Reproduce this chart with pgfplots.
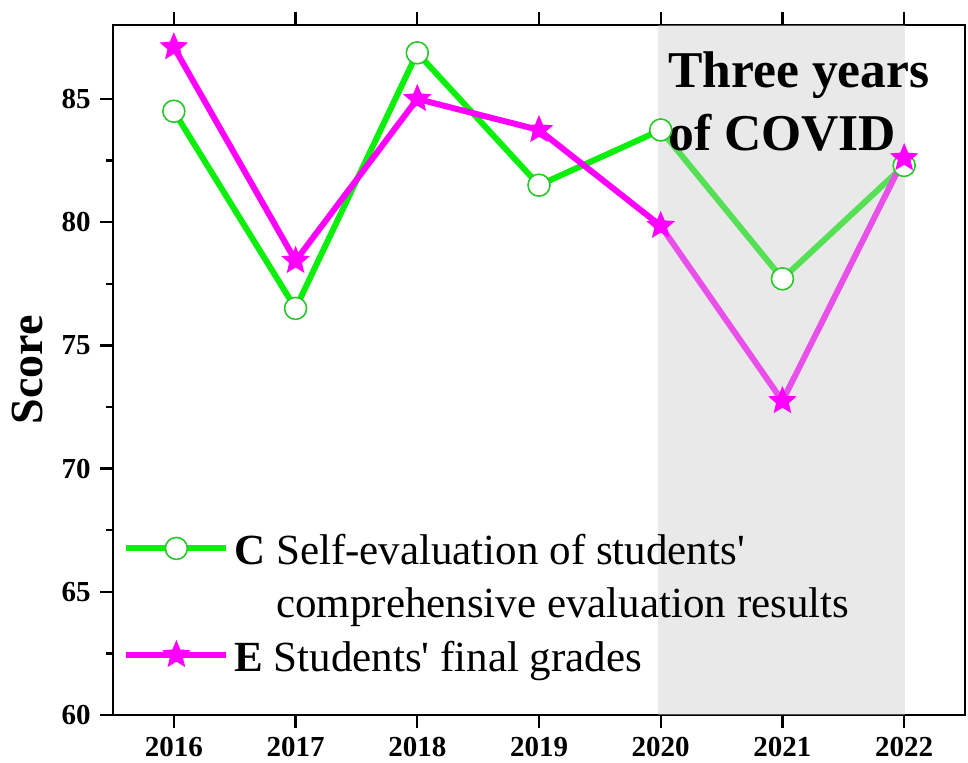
\documentclass[border=0pt]{standalone}
\usepackage{pgfplots}
\pgfplotsset{compat=1.18}
\usepackage{fontspec}
\setmainfont{Liberation Serif}
\definecolor{cgreen}{RGB}{10,240,10}
\definecolor{cgreenedge}{RGB}{40,200,40}
\definecolor{cmag}{RGB}{255,0,255}
\definecolor{covidgray}{RGB}{200,200,200}
\pgfdeclareplotmark{fstar}{%
  \pgfpathmoveto{\pgfpointpolar{90}{\pgfplotmarksize}}%
  \pgfpathlineto{\pgfpointpolar{126}{0.45\pgfplotmarksize}}%
  \pgfpathlineto{\pgfpointpolar{162}{\pgfplotmarksize}}%
  \pgfpathlineto{\pgfpointpolar{198}{0.45\pgfplotmarksize}}%
  \pgfpathlineto{\pgfpointpolar{234}{\pgfplotmarksize}}%
  \pgfpathlineto{\pgfpointpolar{270}{0.45\pgfplotmarksize}}%
  \pgfpathlineto{\pgfpointpolar{306}{\pgfplotmarksize}}%
  \pgfpathlineto{\pgfpointpolar{342}{0.45\pgfplotmarksize}}%
  \pgfpathlineto{\pgfpointpolar{18}{\pgfplotmarksize}}%
  \pgfpathlineto{\pgfpointpolar{54}{0.45\pgfplotmarksize}}%
  \pgfpathclose\pgfusepathqfill}
\begin{document}
\begin{tikzpicture}
\useasboundingbox (-56.5pt,-24pt) rectangle (427.5pt,357.5pt);
\begin{axis}[
  at={(0,0)}, anchor=south west, scale only axis,
  width=426pt, height=345pt,
  xmin=2015.5, xmax=2022.5, ymin=60, ymax=88,
  xtick={2016,2017,2018,2019,2020,2021,2022},
  ytick={60,65,70,75,80,85},
  minor y tick num=1,
  xtick pos=both, ytick pos=left,
  tick align=outside,
  major tick length=6.5pt, minor tick length=3.5pt,
  axis line style={line width=1.3pt},
  every tick/.style={line width=1.2pt, black},
  /pgf/number format/assume math mode=true,
  /pgf/number format/1000 sep={},
  x tick label style={font=\bfseries\fontsize{14.5}{17}\selectfont, yshift=-1pt},
  y tick label style={font=\bfseries\fontsize{14.5}{17}\selectfont, xshift=-1.2pt},
  ylabel={\bfseries Score},
  every axis y label/.style={at={(axis description cs:-0.0998,0.5)}, rotate=90, anchor=center, font=\fontsize{23}{28}\selectfont},
  legend style={at={(0.0117,0.263)}, anchor=north west, draw=none, fill=none, inner sep=0pt,
    font=\fontsize{21.5}{26}\selectfont,
    nodes={inner sep=0pt, text height=15.5pt, text depth=5pt},
    row sep=6pt,
    /tikz/every odd column/.append style={column sep=2.5pt}},
  legend cell align=left,
  legend image code/.code={\draw[mark repeat=2, mark phase=2] plot coordinates {(0pt,3pt) (25pt,3pt) (50pt,3pt)};},
]
\addplot[color=cgreen, line width=3pt, line join=round, mark=*, mark size=5.5pt,
  mark options={draw=cgreenedge, fill=white, line width=0.8pt}]
  coordinates {(2016,84.5) (2017,76.5) (2018,86.87) (2019,81.5) (2020,83.74) (2021,77.7) (2022,82.3)};
\addlegendentry{\textbf{C} Self-evaluation of students\textquotesingle}
\addlegendimage{empty legend}
\addlegendentry{\phantom{\textbf{C}} comprehensive evaluation results}
\addplot[color=cmag, line width=3pt, line join=round, mark=fstar, mark size=7.5pt,
  mark options={fill=cmag, draw=none}]
  coordinates {(2016,87.1) (2017,78.43) (2018,85.0) (2019,83.74) (2020,79.85) (2021,72.74) (2022,82.6)};
\addlegendentry{\textbf{E} Students\textquotesingle{} final grades}
\fill[covidgray, opacity=0.4] (axis cs:2019.975,60) rectangle (axis cs:2022.01,88);
\node[anchor=north west, align=left, inner sep=0pt, font=\bfseries\fontsize{25.8}{31.5}\selectfont]
  at (axis cs:2020.06,86.95) {Three years\\of COVID};
\end{axis}
\end{tikzpicture}
\end{document}
